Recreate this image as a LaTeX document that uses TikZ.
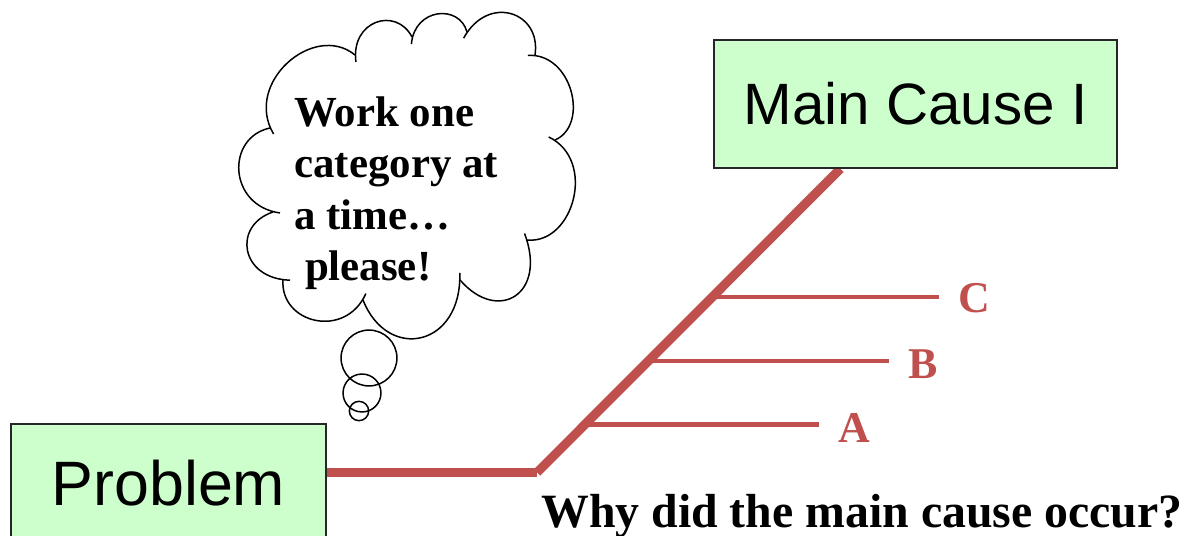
\documentclass[tikz,border=0pt]{standalone}
\usepackage{fontspec}
\setmainfont{Liberation Serif}
\newfontfamily\arialfont{Liberation Sans}
\usetikzlibrary{positioning}
\definecolor{boxgreen}{HTML}{CCFFCC}
\definecolor{fishred}{HTML}{C0504D}
\pgfdeclarelayer{back}
\pgfsetlayers{back,main}

\begin{document}
\begin{tikzpicture}[x=0.02cm,y=-0.02cm,
    causebox/.style={draw=black!85,line width=1.1pt,fill=boxgreen,inner sep=0pt,arialfont},
    arialfont/.style={font=\arialfont\fontsize{#1}{40pt}\selectfont},
    bone/.style={fishred,line width=5.2pt},
    twig/.style={fishred,line width=2.3pt,shorten >=11pt},
    letter/.style={fishred,anchor=west,inner sep=0pt,font=\bfseries\fontsize{25pt}{30pt}\selectfont},
    puff/.style={line width=0.85pt,shorten <=-4pt}]
  \useasboundingbox (0,0) rectangle (1185,536);

  % head and main bone boxes
  \node[causebox,arialfont=35.7pt,minimum width=179.7pt,minimum height=66.9pt,text depth=0pt] (problem) at (168.5,483) {Problem};
  \node[causebox,arialfont=33.2pt,minimum width=229.6pt,minimum height=72.6pt] (main) at (915.5,104) {Main Cause I};

  % sub causes
  \node[letter] (la) at (838,428) {A};
  \node[letter] (lb) at (908,364.5) {B};
  \node[letter] (lc) at (958,298) {C};

  \coordinate (bend) at (537,472.5);
  \coordinate (top) at ([xshift=72.6pt]main.south west);
  \path (bend) -- (top) coordinate[pos=0.158] (sa) coordinate[pos=0.368] (sb) coordinate[pos=0.579] (sc);

  \begin{pgfonlayer}{back}
    \draw[bone] (problem.east |- bend) -- (bend);
    \draw[bone] (bend) -- (top);
    \draw[twig] (sa) -- (sa -| la.west);
    \draw[twig] (sb) -- (sb -| lb.west);
    \draw[twig] (sc) -- (sc -| lc.west);
  \end{pgfonlayer}

  \node[anchor=base west,inner sep=0pt,font=\bfseries\fontsize{27.2pt}{32pt}\selectfont] (why) at (541,527)
    {Why did the main cause occur?};

  % thought cloud
  \foreach \n/\px/\py in {1/270/128,2/355/55,3/412/37,4/467/32,5/535/55,6/555/140,
                          7/527/240,8/460/280,9/363/300,10/283/280,11/273/212}
    \coordinate (v\n) at (\px,\py);
  \foreach \a/\b/\loose in {1/2/1.2,2/3/1.49,3/4/1.35,4/5/1.56,5/6/1.1,6/7/1.15,7/8/1.9,8/9/1.73,9/10/1.35,10/11/1.6,11/1/1.38}
    \draw[puff] (v\a) to[bend left=80,looseness=\loose] (v\b);

  \node[anchor=north west,inner sep=0pt,align=left,font=\bfseries\fontsize{24.4pt}{29.3pt}\selectfont] (note) at (294,96)
    {Work one\\category at\\a time…\\~please!};

  \draw[line width=0.85pt] (369,358) circle (15.9pt);
  \draw[line width=0.85pt] (362,393) circle (10.8pt);
  \draw[line width=0.85pt] (359,411) circle (5.5pt);
\end{tikzpicture}
\end{document}
